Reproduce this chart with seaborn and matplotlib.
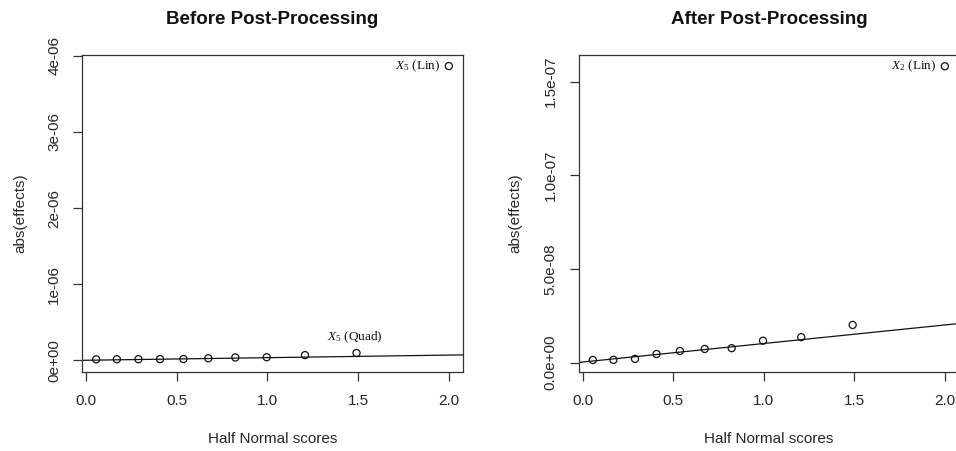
import numpy as np
import pandas as pd
import matplotlib
matplotlib.use("Agg")
import matplotlib.pyplot as plt
import seaborn as sns

# ---- data ----
half_normal_scores = [0.056, 0.170, 0.289, 0.408, 0.537, 0.674, 0.823, 0.996, 1.207, 1.491, 2.0]
effects_before = [0.012e-6, 0.013e-6, 0.014e-6, 0.015e-6, 0.016e-6, 0.026e-6, 0.037e-6,
                  0.040e-6, 0.068e-6, 0.095e-6, 3.865e-6]
effects_after = [0.14e-8, 0.15e-8, 0.20e-8, 0.46e-8, 0.62e-8, 0.73e-8, 0.77e-8,
                 1.17e-8, 1.36e-8, 2.01e-8, 15.82e-8]
line_before = {"intercept": 0.0, "slope": 3.4e-8}
line_after = {"intercept": 0.03e-8, "slope": 0.99e-8}

titles = ["Before Post-Processing", "After Post-Processing"]
xlabel = "Half Normal scores"
ylabel = "abs(effects)"
xticks = [0.0, 0.5, 1.0, 1.5, 2.0]
xtick_labels = ["0.0", "0.5", "1.0", "1.5", "2.0"]
yticks_before = [0, 1e-6, 2e-6, 3e-6, 4e-6]
ytick_labels_before = ["0e+00", "1e-06", "2e-06", "3e-06", "4e-06"]
yticks_after = [0, 5e-8, 1e-7, 1.5e-7]
ytick_labels_after = ["0.0e+00", "5.0e-08", "1.0e-07", "1.5e-07"]

annot_before = [(10, r"$X_5$ (Lin)", "lin"), (9, r"$X_5$ (Quad)", "quad")]
annot_after = [(10, r"$X_2$ (Lin)", "lin")]

# ---- style ----
sns.set_style("ticks")
plt.rcParams["font.family"] = ["Liberation Sans", "DejaVu Sans"]
plt.rcParams["mathtext.fontset"] = "custom"
plt.rcParams["mathtext.rm"] = "Liberation Serif"
plt.rcParams["mathtext.it"] = "Liberation Serif:italic"

fig = plt.figure(figsize=(9.56, 4.51), dpi=100)
ax1 = fig.add_axes([0.0858, 0.1752, 0.3985, 0.7028])
ax2 = fig.add_axes([0.6053, 0.1752, 0.3978, 0.7028])

text_col = "#262626"
panels = [
    (ax1, effects_before, line_before, yticks_before, ytick_labels_before,
     (-0.154e-6, 4.01e-6), annot_before, titles[0], -0.163),
    (ax2, effects_after, line_after, yticks_after, ytick_labels_after,
     (-0.5e-8, 1.642e-7), annot_after, titles[1], -0.167),
]

for ax, yvals, line, yt, ytl, ylim, annots, title, ylab_x in panels:
    df = pd.DataFrame({"x": half_normal_scores, "y": yvals})
    sns.scatterplot(data=df, x="x", y="y", ax=ax, marker="o", s=26,
                    facecolor="none", edgecolor="#111111", linewidth=0.9, zorder=3)
    ax.axline((0, line["intercept"]), slope=line["slope"], color="#111111", lw=0.9)
    ax.set_xlim(-0.022, 2.078)
    ax.set_ylim(*ylim)
    ax.set_xticks(xticks)
    ax.set_xticklabels(xtick_labels)
    ax.set_yticks(yt)
    ax.set_yticklabels(ytl, rotation=90, va="center")
    ax.tick_params(axis="both", direction="out", length=6.5, width=0.9,
                   color="#333333", labelsize=11, labelcolor=text_col)
    ax.tick_params(axis="x", pad=9)
    ax.tick_params(axis="y", pad=8.5)
    for sp in ax.spines.values():
        sp.set_visible(True)
        sp.set_color("#333333")
        sp.set_linewidth(0.9)
    ax.set_xlabel(xlabel, fontsize=11, color=text_col)
    ax.set_ylabel(ylabel, fontsize=11, color=text_col)
    ax.xaxis.label.set_va("center")
    ax.yaxis.label.set_va("center")
    ax.xaxis.set_label_coords(0.5, -0.211)
    ax.yaxis.set_label_coords(ylab_x, 0.5)
    ax.set_title(title, fontsize=13.5, fontweight="bold", color="#111111", pad=22)
    for idx, label, kind in annots:
        xv, yv = half_normal_scores[idx], yvals[idx]
        if kind == "lin":
            ax.annotate(label, (xv, yv), xytext=(-6, 0), textcoords="offset points",
                        ha="right", va="center", fontsize=9.5,
                        family="Liberation Serif", color="#111111")
        else:
            ax.annotate(label, (xv, yv), xytext=(-1, 11), textcoords="offset points",
                        ha="center", va="center", fontsize=9.5,
                        family="Liberation Serif", color="#111111")

fig.savefig("out.png", dpi=100)
